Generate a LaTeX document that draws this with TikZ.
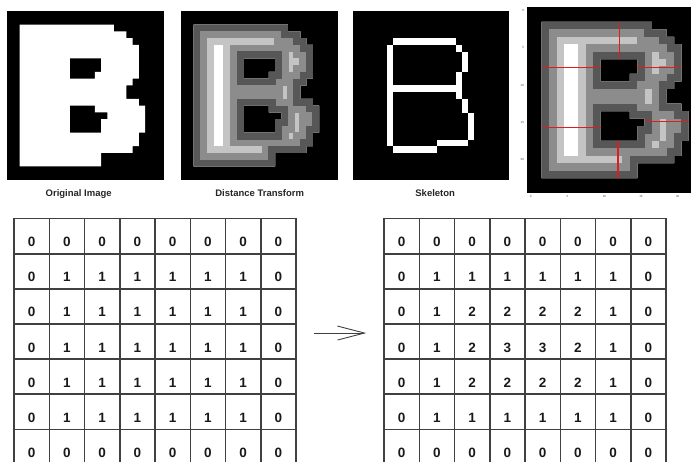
\documentclass[tikz,border=0pt]{standalone}
\usepackage{fontspec}
\setmainfont{Liberation Sans}
\usepackage{tikz}
\usetikzlibrary{arrows.meta, positioning}

\definecolor{dtone}{gray}{0.34}
\definecolor{dttwo}{gray}{0.55}
\definecolor{dtthree}{gray}{0.77}
\definecolor{lineRed}{RGB}{220,30,30}

% Umriss des B (Pixelraster 25x25, y nach unten)
\newcommand{\Bpath}{(2,2) -- (17,2) -- (17,3) -- (19,3) -- (19,4) -- (20,4) -- (20,5) -- (21,5) -- (21,10) -- (20,10) -- (20,11) -- (19,11) -- (19,13) -- (21,13) -- (21,14) -- (22,14) -- (22,18) -- (21,18) -- (21,20) -- (20,20) -- (20,21) -- (15,21) -- (15,23) -- (2,23) -- cycle
  (10,7) -- (15,7) -- (15,9) -- (14,9) -- (14,10) -- (10,10) -- cycle
  (10,14) -- (14,14) -- (14,15) -- (16,15) -- (16,16) -- (15,16) -- (15,18) -- (10,18) -- cycle}

% Distanzbild: Ringe nach innen heller
\newcommand{\Bdist}[1]{%
  \begin{scope}[even odd rule]
    \clip \Bpath;
    \fill[white] (0,0) rectangle (25,25);
    \draw[dtthree, line width=6*#1, line join=miter] \Bpath;
    \draw[dttwo, line width=4*#1, line join=miter] \Bpath;
    \draw[dtone, line width=2*#1, line join=miter] \Bpath;
  \end{scope}}

\begin{document}
\begin{tikzpicture}[
    x=1pt, y=-1pt,
    panel/.style={rectangle, fill=black, inner sep=0pt, minimum width=157pt, minimum height=169pt, anchor=north west},
    caption/.style={font=\bfseries\fontsize{9.5}{11}\selectfont, text=black!85, text height=7pt, text depth=2pt},
    cell/.style={rectangle, draw=black!75, line width=1.5pt, minimum width=35.25pt, minimum height=35.1pt, inner sep=0pt, text height=21pt, text depth=0pt, font=\bfseries\fontsize{13.5}{13.5}\selectfont, text=black!90},
    tick/.style={font=\fontsize{3}{3}\selectfont, inner sep=0.3pt, text=black!70},
    redline/.style={lineRed, line width=1.5pt},
    bigarrow/.style={-{Straight Barb[length=27pt, width=14pt]}, line width=0.9pt, black!75}
]

\clip (0,0) rectangle (691,462);

% Bilder oben
\node[panel] (orig) at (7,11) {};
\node[panel] (dist) at (181,11) {};
\node[panel, minimum width=156pt] (skel) at (353,11) {};
\node[panel, minimum width=185pt, minimum height=186pt] (axes) at (527,7) {};

\begin{scope}[shift={(orig.north west)}, x=6.28pt, y=-6.76pt]
  \fill[white, even odd rule] \Bpath;
\end{scope}

\begin{scope}[shift={(dist.north west)}, x=6.28pt, y=-6.76pt]
  \Bdist{6.85pt}
\end{scope}

\begin{scope}[shift={(skel.north west)}, xshift=2.8pt, x=6.24pt, y=-6.77pt]
  \foreach \xa/\ya/\xb/\yb in {6/4/16/5, 5/5/6/20, 16/5/17/6, 17/6/18/9, 16/9/17/13, 6/11/16/12,
      17/13/18/15, 18/15/19/19, 13/19/18/20, 6/20/13/21}
    \fill[white] (\xa,\ya) rectangle (\xb,\yb);
\end{scope}

\begin{scope}[shift={(axes.north west)}, x=7.35pt, y=-7.44pt]
  \Bdist{7.5pt}
  \draw[redline] (12.6,2) -- (12.6,7);
  \draw[redline] (2,8.1) -- (10,8.1);
  \draw[redline] (15,8.1) -- (21,8.1);
  \draw[redline] (2,16.2) -- (10,16.2);
  \draw[redline] (16,15.4) -- (22,15.4);
  \draw[redline] (12.4,18) -- (12.4,23);
  \foreach \t in {0,5,...,20} {
    \node[tick, anchor=east] (yt\t) at (-0.35,\t+0.5) {\t};
    \node[tick, anchor=north] (xt\t) at (\t+0.5,25.3) {\t};
  }
\end{scope}

% Beschriftung
\node[caption, below=5.5pt of orig, xshift=-7pt] (origcap) {Original Image};
\node[caption, below=5.5pt of dist] (distcap) {Distance Transform};
\node[caption, below=5.5pt of skel, xshift=4pt] (skelcap) {Skeleton};

% Matrizen unten
\foreach \vals [count=\r] in {{0,0,0,0,0,0,0,0},{0,1,1,1,1,1,1,0},{0,1,1,1,1,1,1,0},{0,1,1,1,1,1,1,0},
    {0,1,1,1,1,1,1,0},{0,1,1,1,1,1,1,0},{0,0,0,0,0,0,0,0}}
  \foreach \v [count=\c] in \vals
    \node[cell] (L-\r-\c) at ({14+35.25*(\c-0.5)},{218.7+35.1*(\r-0.5)}) {\v};

\foreach \vals [count=\r] in {{0,0,0,0,0,0,0,0},{0,1,1,1,1,1,1,0},{0,1,2,2,2,2,1,0},{0,1,2,3,3,2,1,0},
    {0,1,2,2,2,2,1,0},{0,1,1,1,1,1,1,0},{0,0,0,0,0,0,0,0}}
  \foreach \v [count=\c] in \vals
    \node[cell] (R-\r-\c) at ({384+35.25*(\c-0.5)},{218.7+35.1*(\r-0.5)}) {\v};

% Pfeil
\draw[bigarrow, shorten <=17pt, shorten >=17pt] ([yshift=8.5pt]L-4-8.east) -- ([yshift=8.5pt]R-4-1.west);

\end{tikzpicture}
\end{document}
